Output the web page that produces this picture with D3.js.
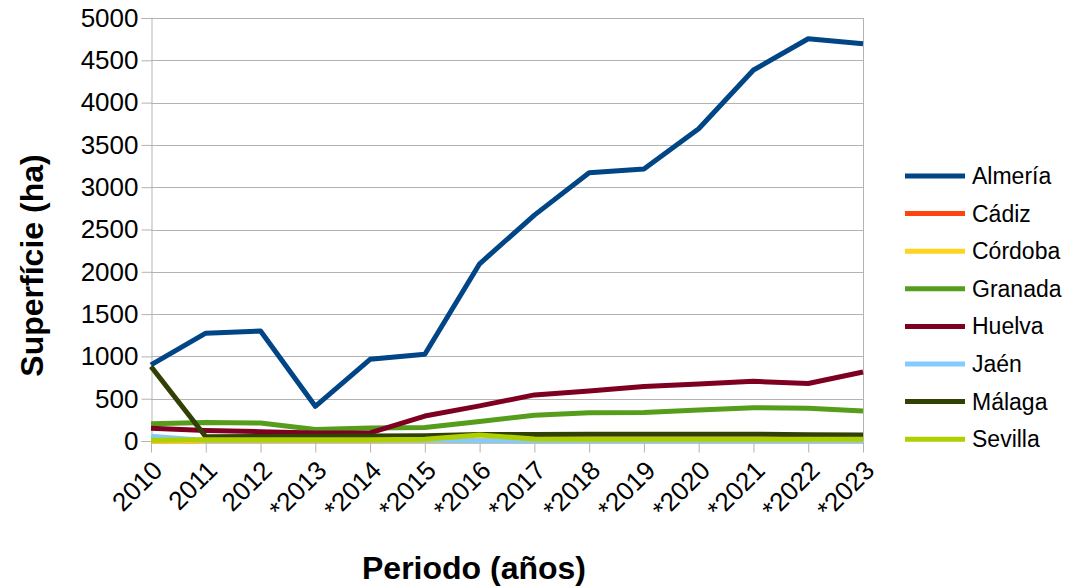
<!DOCTYPE html>
<html>
<head>
<meta charset="utf-8">
<script src="https://cdn.jsdelivr.net/npm/d3@7"></script>
<style>
  body { margin: 0; background: #fff; }
  text { font-family: "Liberation Sans", Arial, sans-serif; }
</style>
</head>
<body>
<div id="container"></div>
<script>
/* DATA */
const years = ["2010", "2011", "2012", "*2013", "*2014", "*2015", "*2016", "*2017", "*2018", "*2019", "*2020", "*2021", "*2022", "*2023"];
const provinces = ["Almería", "Cádiz", "Córdoba", "Granada", "Huelva", "Jaén", "Málaga", "Sevilla"];
const colors = ["#004586", "#ff420e", "#ffd320", "#579d1c", "#7e0021", "#83caff", "#314004", "#aecf00"];

const almeria = [900, 1275, 1300, 410, 965, 1025, 2095, 2670, 3170, 3215, 3690, 4385, 4755, 4695];
const cadiz   = [0, 0, 0, 0, 0, 0, 0, 0, 0, 0, 0, 0, 0, 0];
const cordoba = [0, 0, 0, 0, 0, 0, 0, 0, 0, 0, 0, 0, 0, 0];
const granada = [205, 220, 213, 135, 155, 160, 230, 305, 335, 338, 365, 394, 386, 355];
const huelva  = [150, 125, 110, 95, 95, 295, 415, 545, 590, 645, 675, 705, 680, 815];
const jaen    = [55, 5, 5, 5, 5, 5, 0, 0, 0, 0, 0, 0, 0, 0];
const malaga  = [880, 50, 52, 55, 58, 62, 78, 78, 80, 80, 80, 80, 75, 70];
const sevilla = [10, 15, 15, 15, 15, 20, 70, 25, 22, 22, 20, 20, 22, 22];

const yTicks = [0, 500, 1000, 1500, 2000, 2500, 3000, 3500, 4000, 4500, 5000];

const series = [almeria, cadiz, cordoba, granada, huelva, jaen, malaga, sevilla]
  .map((values, i) => ({ name: provinces[i], color: colors[i], values }));

/* CONSTANTS */
const width = 1074,
  height = 588,
  margin = { top: 18, bottom: 147, left: 151, right: 211 };

/* SCALES */
const xScale = d3.scalePoint()
  .domain(years)
  .range([margin.left, width - margin.right]);

const yScale = d3.scaleLinear()
  .domain([0, 5000])
  .range([height - margin.bottom, margin.top]);

/* SVG */
const svg = d3.select("#container")
  .append("svg")
  .attr("width", width)
  .attr("height", height);

// grid lines
svg.append("g")
  .selectAll("line")
  .data(yTicks)
  .join("line")
  .attr("x1", margin.left)
  .attr("x2", width - margin.right)
  .attr("y1", d => Math.round(yScale(d)) + 0.5)
  .attr("y2", d => Math.round(yScale(d)) + 0.5)
  .attr("stroke", "#b3b3b3");

// right border
svg.append("line")
  .attr("x1", width - margin.right + 0.5)
  .attr("x2", width - margin.right + 0.5)
  .attr("y1", margin.top)
  .attr("y2", height - margin.bottom)
  .attr("stroke", "#b3b3b3");

// y axis
const yAxis = d3.axisLeft(yScale)
  .tickValues(yTicks)
  .tickSize(10)
  .tickPadding(3)
  .tickFormat(d3.format("d"));

svg.append("g")
  .attr("transform", `translate(${margin.left + 0.5},0)`)
  .call(yAxis)
  .call(g => g.selectAll("line, path").attr("stroke", "#b3b3b3"))
  .call(g => g.selectAll("text").attr("font-size", 26).attr("fill", "#000"));

// x axis
const xAxis = d3.axisBottom(xScale)
  .tickSize(11)
  .tickSizeOuter(0);

svg.append("g")
  .attr("transform", `translate(0,${height - margin.bottom + 0.5})`)
  .call(xAxis)
  .call(g => g.selectAll("line, path").attr("stroke", "#b3b3b3"))
  .call(g => g.selectAll("text")
    .attr("font-size", 26)
    .attr("fill", "#000")
    .attr("text-anchor", "end")
    .attr("y", 0)
    .attr("dy", "0.35em")
    .attr("transform", "translate(6,24) rotate(-45)"));

// lines
const line = d3.line()
  .x((d, i) => xScale(years[i]))
  .y(d => yScale(d));

svg.append("g")
  .selectAll("path")
  .data(series)
  .join("path")
  .attr("d", d => line(d.values))
  .attr("fill", "none")
  .attr("stroke", d => d.color)
  .attr("stroke-width", 5)
  .attr("stroke-linejoin", "round");

// legend
const legend = svg.append("g")
  .selectAll("g")
  .data(series)
  .join("g")
  .attr("transform", (d, i) => `translate(905,${176 + i * 37.6})`);

legend.append("line")
  .attr("x1", 0)
  .attr("x2", 60)
  .attr("stroke", d => d.color)
  .attr("stroke-width", 5);

legend.append("text")
  .attr("x", 67)
  .attr("dy", "0.35em")
  .attr("font-size", 23)
  .text(d => d.name);

// axis titles
svg.append("text")
  .attr("transform", `translate(43,${(margin.top + height - margin.bottom) / 2 + 36}) rotate(-90)`)
  .attr("text-anchor", "middle")
  .attr("font-size", 32)
  .attr("font-weight", "bold")
  .text("Superfície (ha)");

svg.append("text")
  .attr("x", 474)
  .attr("y", 579)
  .attr("text-anchor", "middle")
  .attr("font-size", 32)
  .attr("font-weight", "bold")
  .text("Periodo (años)");
</script>
</body>
</html>
